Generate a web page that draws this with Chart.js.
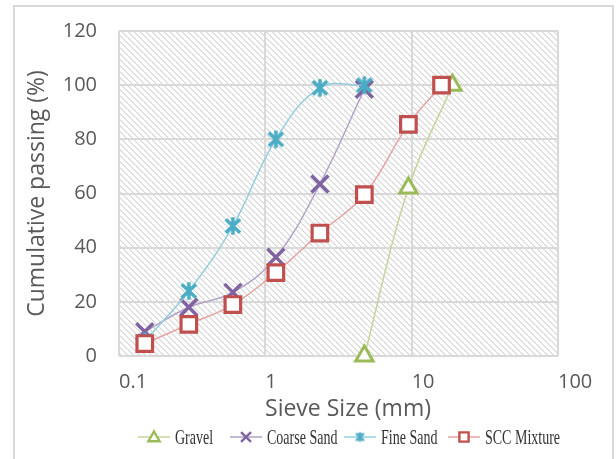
<!DOCTYPE html>
<html>
<head>
<meta charset="utf-8">
<script src="https://cdn.jsdelivr.net/npm/chart.js@4.4.1/dist/chart.umd.min.js"></script>
<style>
  html, body { margin: 0; padding: 0; background: #ffffff; }
  #wrap { position: relative; width: 616px; height: 459px; }
  canvas { display: block; }
</style>
</head>
<body>
<div id="wrap"><canvas id="c" width="616" height="459"></canvas></div>
<script>
// Sieve sizes (mm) and cumulative passing (%) for each material
const gravelSize = [4.75, 9.5, 19];
const gravelPass = [0, 62, 100];

const coarseSize = [0.15, 0.3, 0.6, 1.18, 2.36, 4.75];
const coarsePass = [9, 18, 23.5, 36.5, 63.5, 98.5];

const fineSize = [0.15, 0.3, 0.6, 1.18, 2.36, 4.75];
const finePass = [5.5, 24, 48, 80, 99, 100];

const sccSize = [0.15, 0.3, 0.6, 1.18, 2.36, 4.75, 9.5, 16];
const sccPass = [4.6, 11.7, 19, 30.8, 45.4, 59.6, 85.5, 100];

const xTickValues = [0.1, 1, 10, 100];
const xTickLabels = ['0.1', '1', '10', '100'];
const seriesNames = ['Gravel', 'Coarse Sand', 'Fine Sand', 'SCC Mixture'];

const toPoints = (xs, ys) => xs.map((x, i) => ({ x: x, y: ys[i] }));

// six-armed star marker: an X with a vertical stroke
function makeStar(size, lw, color) {
  const c = document.createElement('canvas');
  c.width = size; c.height = size;
  const g = c.getContext('2d');
  const m = size / 2, a = size / 2 - lw / 2 - 0.5;
  g.strokeStyle = color; g.lineWidth = lw; g.lineCap = 'butt';
  g.beginPath();
  g.moveTo(m - a * 0.82, m - a * 0.78); g.lineTo(m + a * 0.82, m + a * 0.78);
  g.moveTo(m + a * 0.82, m - a * 0.78); g.lineTo(m - a * 0.82, m + a * 0.78);
  g.moveTo(m, m - a); g.lineTo(m, m + a);
  g.stroke();
  return c;
}
const starBig = makeStar(22, 3.5, '#4bacc6');
const starSmall = makeStar(13, 2.4, '#4bacc6');

// diagonal hatch used as the plot background
function makeHatch() {
  const c = document.createElement('canvas');
  c.width = 6; c.height = 6;
  const g = c.getContext('2d');
  g.fillStyle = '#ffffff'; g.fillRect(0, 0, 6, 6);
  for (let i = 0; i < 6; i++) {
    g.fillStyle = '#d6d6d6';
    g.fillRect(i, i, 1, 1);
    g.fillStyle = '#ebebeb';
    g.fillRect((i + 1) % 6, i, 1, 1);
  }
  return c;
}
const hatchCanvas = makeHatch();

const backgroundPlugin = {
  id: 'background',
  beforeDraw(chart) {
    const ctx = chart.ctx, a = chart.chartArea;
    ctx.save();
    ctx.fillStyle = '#ffffff';
    ctx.fillRect(0, 0, chart.width, chart.height);
    ctx.strokeStyle = '#d9d9d9';
    ctx.lineWidth = 2;
    ctx.strokeRect(14, 6, 599, 470);
    ctx.fillStyle = ctx.createPattern(hatchCanvas, 'repeat');
    ctx.fillRect(a.left, a.top, a.right - a.left, a.bottom - a.top);
    ctx.restore();
  }
};

// axis title below the plot and the legend row
const legendPlugin = {
  id: 'legendRow',
  afterDraw(chart) {
    const ctx = chart.ctx;
    ctx.save();
    ctx.fillStyle = '#595959';
    ctx.font = '23px "Open Sans"';
    ctx.textAlign = 'center';
    ctx.textBaseline = 'middle';
    ctx.fillText('Sieve Size (mm)', 348, 409);

    const y = 437;
    const items = [
      { x: 138, line: '#c3d69b', style: 'triangle', color: '#9bbb59' },
      { x: 230, line: '#b3a2c7', style: 'crossRot', color: '#8064a2' },
      { x: 344, line: '#93cddd', style: 'star', color: '#4bacc6' },
      { x: 448, line: '#e6a3a1', style: 'rect', color: '#c0504d' }
    ];
    items.forEach((it, i) => {
      ctx.strokeStyle = it.line;
      ctx.lineWidth = 1.5;
      ctx.beginPath();
      ctx.moveTo(it.x, y); ctx.lineTo(it.x + 32, y);
      ctx.stroke();
      const cx = it.x + 16;
      if (it.style === 'star') {
        ctx.drawImage(starSmall, cx - 6.5, y - 6.5);
      } else {
        ctx.fillStyle = '#ffffff';
        ctx.strokeStyle = it.color;
        ctx.lineWidth = 2.4;
        Chart.helpers.drawPoint(ctx, { pointStyle: it.style, radius: it.style === 'crossRot' ? 7 : 6.5, rotation: 0, borderWidth: 2.4 }, cx, y + (it.style === 'triangle' ? 1 : 0));
      }
      ctx.save();
      ctx.translate(it.x + 37, y + 1);
      ctx.scale(1, 1.5);
      ctx.fillStyle = '#333333';
      ctx.font = '14px "Liberation Serif"';
      ctx.textAlign = 'left';
      ctx.textBaseline = 'middle';
      ctx.fillText(seriesNames[i], 0, 0);
      ctx.restore();
    });
    ctx.restore();
  }
};

const common = {
  showLine: true,
  tension: 0.4,
  borderWidth: 1.5,
  pointBorderWidth: 3,
  pointBackgroundColor: '#ffffff',
  clip: false
};

new Chart(document.getElementById('c'), {
  type: 'scatter',
  data: {
    datasets: [
      Object.assign({}, common, {
        label: seriesNames[0], data: toPoints(gravelSize, gravelPass), order: 3,
        borderColor: '#c3d69b', pointBorderColor: '#9bbb59', pointStyle: 'triangle', pointRadius: 10, pointBorderWidth: 3
      }),
      Object.assign({}, common, {
        label: seriesNames[1], data: toPoints(coarseSize, coarsePass), order: 2,
        borderColor: '#b3a2c7', pointBorderColor: '#8064a2', pointStyle: 'crossRot', pointRadius: 12, pointBorderWidth: 3.5
      }),
      Object.assign({}, common, {
        label: seriesNames[2], data: toPoints(fineSize, finePass), order: 1,
        borderColor: '#93cddd', pointBorderColor: '#4bacc6', pointStyle: starBig, pointRadius: 11
      }),
      Object.assign({}, common, {
        label: seriesNames[3], data: toPoints(sccSize, sccPass), order: 0,
        borderColor: '#e6a3a1', pointBorderColor: '#c0504d', pointStyle: 'rect', pointRadius: 11, pointBorderWidth: 3.2
      })
    ]
  },
  options: {
    responsive: false,
    animation: false,
    events: [],
    layout: { padding: { left: 0, top: 31, right: 58, bottom: 33 } },
    plugins: { legend: { display: false }, tooltip: { enabled: false } },
    scales: {
      x: {
        type: 'logarithmic',
        min: 0.1,
        max: 100,
        afterBuildTicks(scale) { scale.ticks = xTickValues.map(v => ({ value: v })); },
        afterFit(scale) { scale.height = 70; },
        ticks: {
          align: 'start',
          padding: 14,
          color: '#595959',
          font: { family: '"Open Sans"', size: 20 },
          callback: (v) => xTickLabels[xTickValues.indexOf(v)] ?? ''
        },
        grid: { color: '#d9d9d9', lineWidth: 2, drawTicks: false },
        border: { display: false }
      },
      y: {
        min: 0,
        max: 120,
        afterFit(scale) {
          scale.width = 119;
          scale.paddingTop = 12;
          scale.paddingBottom = 12;
        },
        ticks: {
          stepSize: 20,
          padding: 22,
          color: '#595959',
          font: { family: '"Open Sans"', size: 20 }
        },
        grid: { color: '#d9d9d9', lineWidth: 2, drawTicks: false },
        border: { display: false },
        title: {
          display: true,
          text: 'Cumulative passing (%)',
          color: '#595959',
          font: { family: '"Open Sans"', size: 23 },
          padding: { top: 24, bottom: 0 }
        }
      }
    }
  },
  plugins: [backgroundPlugin, legendPlugin]
});
</script>
</body>
</html>
